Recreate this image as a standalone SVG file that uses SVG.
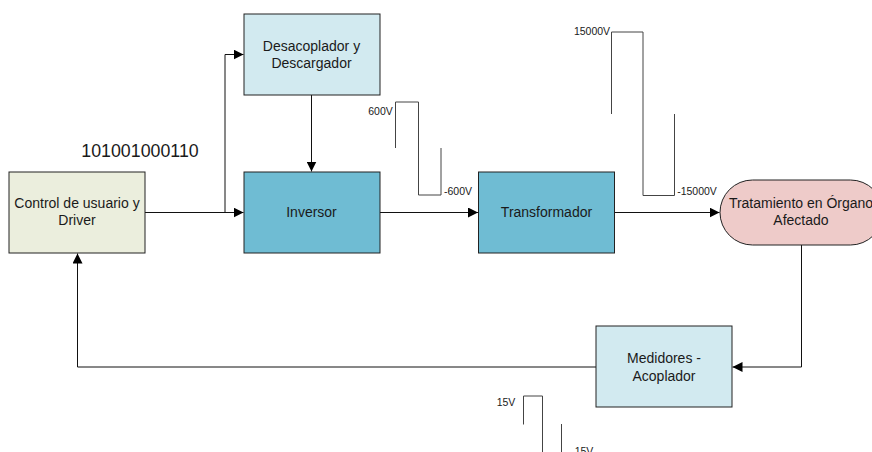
<svg xmlns="http://www.w3.org/2000/svg" width="872" height="452" viewBox="0 0 872 452">
<style>
text{font-family:"Liberation Sans",Arial,sans-serif;fill:#1a1a1a;text-anchor:middle}
.n{font-size:14px}
.s{font-size:10.5px}
.box{stroke:#222;stroke-width:1}
.c{fill:none;stroke:#111;stroke-width:1}
.w{fill:none;stroke:#444;stroke-width:1}
</style>
<defs><marker id="a" markerUnits="userSpaceOnUse" markerWidth="11" markerHeight="10" refX="10" refY="5" orient="auto"><path d="M0 0L10 5L0 10Z" fill="#000"/></marker></defs>
<rect width="872" height="452" fill="#fff"/>
<g id="connectors">
<path class="c" d="M145 212.500H243.500" marker-end="url(#a)"/>
<path class="c" d="M225 212.500V54.500H243.500" marker-end="url(#a)"/>
<path class="c" d="M311.500 95V171.500" marker-end="url(#a)"/>
<path class="c" d="M380 212.500H478" marker-end="url(#a)"/>
<path class="c" d="M614.500 212.500H719.500" marker-end="url(#a)"/>
<path class="c" d="M801.500 245V367H732.500" marker-end="url(#a)"/>
<path class="c" d="M596 367H77.500V253.500" marker-end="url(#a)"/>
</g>
<g id="control"><rect class="box" x="9" y="172" width="136" height="81" fill="#ebeedd"/><text class="n" x="77" y="208">Control de usuario y</text><text class="n" x="77" y="225">Driver</text></g>
<g id="desacoplador"><rect class="box" x="244" y="14" width="136" height="81" fill="#d2eaf0"/><text class="n" x="311.500" y="51">Desacoplador y</text><text class="n" x="311.500" y="68">Descargador</text></g>
<g id="inversor"><rect class="box" x="244" y="172" width="136" height="81" fill="#6fbcd3"/><text class="n" x="311.500" y="217">Inversor</text></g>
<g id="transformador"><rect class="box" x="478.500" y="172" width="136" height="81" fill="#6fbcd3"/><text class="n" x="546.500" y="217">Transformador</text></g>
<g id="tratamiento"><rect class="box" x="720" y="180" width="163" height="65" rx="32.500" fill="#eecbc9"/><text class="n" x="801" y="208">Tratamiento en Órgano</text><text class="n" x="801" y="225">Afectado</text></g>
<g id="medidores"><rect class="box" x="596" y="326" width="136" height="81" fill="#d2eaf0"/><text class="n" x="664" y="363">Medidores -</text><text class="n" x="664" y="381">Acoplador</text></g>
<g id="senal"><text x="140" y="157" font-size="17.800">101001000110</text></g>
<g id="onda-600"><path class="w" d="M395.500 148V102H418.500V195H441V148"/><text class="s" x="380.500" y="115">600V</text><text class="s" x="458" y="195">-600V</text></g>
<g id="onda-15000"><path class="w" d="M611.500 114V32H643V195.500H674.500V114"/><text class="s" x="592" y="35">15000V</text><text class="s" x="697" y="195">-15000V</text></g>
<g id="onda-15"><path class="w" d="M523.500 424.500V396H542.500V452M561.500 424V452"/><text class="s" x="506" y="406">15V</text><text class="s" x="584" y="455">15V</text></g>
</svg>
